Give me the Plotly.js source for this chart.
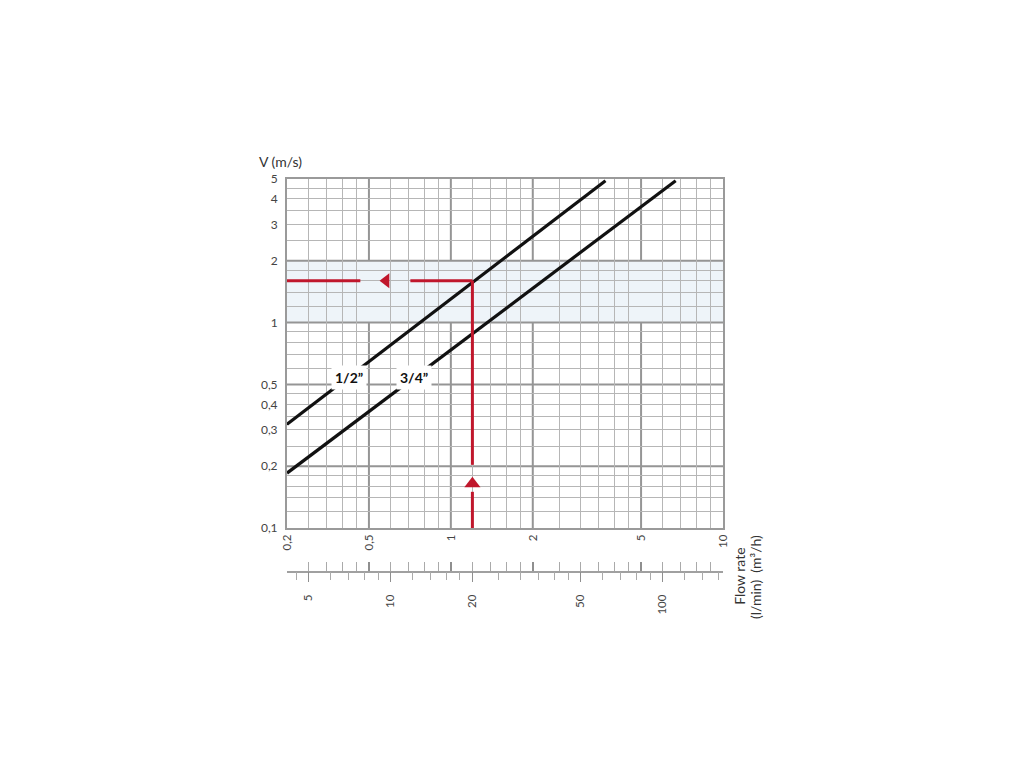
<!DOCTYPE html>
<html><head><meta charset="utf-8">
<script src="https://cdn.plot.ly/plotly-3.0.1.min.js"></script>
<style>html,body{margin:0;padding:0;background:#fff}#chart{width:1024px;height:768px}</style>
</head><body><div id="chart"></div>
<script>
// ---- Flow rate axis (m3/h) ----
const flowTicks = [0.25, 0.5, 1, 2, 5, 10];
const flowLabels = ['0,2', '0,5', '1', '2', '5', '10'];
const flowMinor = [0.3, 0.35, 0.4, 0.45, 0.6, 0.7, 0.8, 0.9, 1.2, 1.4, 1.6, 1.8, 2.5, 3, 3.5, 4, 4.5, 6, 7, 8, 9];
const flowStrong = [0.5, 1, 2, 5];
// ---- Flow rate axis (l/min) ----
const lminTicks = [5, 10, 20, 50, 100];
const lminLabels = ['5', '10', '20', '50', '100'];
const lminMinor = [4.5, 6, 7, 8, 9, 12, 14, 16, 18, 25, 30, 35, 40, 45, 60, 70, 80, 90, 120, 140, 160];
const lminPerM3h = 1 / 0.06;
// ---- Velocity axis (m/s) ----
const velTicks = [0.1, 0.2, 0.3, 0.4, 0.5, 1, 2, 3, 4, 5];
const velLabels = ['0,1', '0,2', '0,3', '0,4', '0,5', '1', '2', '3', '4', '5'];
const velMinor = [0.12, 0.14, 0.16, 0.18, 0.25, 0.3, 0.35, 0.4, 0.45, 0.6, 0.7, 0.8, 0.9, 1.2, 1.4, 1.6, 1.8, 2.5, 3, 3.5, 4, 4.5];
const velStrong = [0.2, 0.5, 1, 2];
const bandVel = [1, 2];
// ---- Pipe lines ----
const pipeNames = ['1/2\u201D', '3/4\u201D'];
const flowHalf = [0.25, 3.7];
const velHalf = [0.32, 4.9];
const flowThreeQ = [0.25, 6.7];
const velThreeQ = [0.185, 4.9];
// ---- Reading example (20 l/min) ----
const exFlow = 1.2;
const exVel = 1.6;
const exHorizA = [0.25, 0.465];
const exHorizB = [0.71, 1.2];
const exArrowFlow = 0.578;
const exVertA = [0.1, 0.15];
const exVertB = [0.203, 1.6];
const exArrowVel = 0.164;

const RED = '#c0172c';
const FONT = 'Lato, "Open Sans", sans-serif';
const xRange = [Math.log10(flowTicks[0]), Math.log10(flowTicks[flowTicks.length - 1])];

const traces = [
  {x: flowHalf, y: velHalf, mode: 'lines', line: {color: '#111', width: 3.2}, hoverinfo: 'skip', name: pipeNames[0]},
  {x: flowThreeQ, y: velThreeQ, mode: 'lines', line: {color: '#111', width: 3.2}, hoverinfo: 'skip', name: pipeNames[1]},
  {x: exHorizA, y: [exVel, exVel], mode: 'lines', line: {color: RED, width: 3}, hoverinfo: 'skip'},
  {x: exHorizB, y: [exVel, exVel], mode: 'lines', line: {color: RED, width: 3}, hoverinfo: 'skip'},
  {x: [exFlow, exFlow], y: exVertA, mode: 'lines', line: {color: RED, width: 3}, hoverinfo: 'skip'},
  {x: [exFlow, exFlow], y: exVertB, mode: 'lines', line: {color: RED, width: 3}, hoverinfo: 'skip'},
  {x: [exArrowFlow], y: [exVel], mode: 'markers', marker: {symbol: 'triangle-left', size: 13, color: RED}, hoverinfo: 'skip'},
  {x: [exFlow], y: [exArrowVel], mode: 'markers', marker: {symbol: 'triangle-up', size: 14, color: RED}, hoverinfo: 'skip'},
  {x: [1, 2], y: [1, 1], xaxis: 'x2', yaxis: 'y', mode: 'markers', marker: {opacity: 0}, hoverinfo: 'skip'},
  {x: [10, 20], y: [1, 1], xaxis: 'x3', yaxis: 'y', mode: 'markers', marker: {opacity: 0}, hoverinfo: 'skip'}
];

const shapes = [
  {type: 'rect', xref: 'x', yref: 'y', x0: flowTicks[0], x1: 10, y0: bandVel[0], y1: bandVel[1],
   fillcolor: '#eef4f9', line: {width: 0}, layer: 'below'}
];
flowStrong.forEach(v => shapes.push({type: 'line', xref: 'x', yref: 'paper', x0: v, x1: v,
  y0: 72 / 421, y1: 1, line: {color: '#959595', width: 2}, layer: 'below'}));
velStrong.forEach(v => shapes.push({type: 'line', xref: 'x', yref: 'y', x0: flowTicks[0], x1: 10,
  y0: v, y1: v, line: {color: '#959595', width: 2}, layer: 'below'}));

const annotations = [
  {text: 'V (m/s)', xref: 'paper', yref: 'paper', x: -0.068, y: 1.042, xanchor: 'left', yanchor: 'middle',
   showarrow: false, font: {family: FONT, size: 14, color: '#333'}},
  {text: pipeNames[0], xref: 'x', yref: 'y', x: Math.log10(0.423), y: Math.log10(0.543), showarrow: false,
   bgcolor: '#fff', borderpad: 3, font: {family: FONT, size: 14, color: '#111', weight: 'bold'}},
  {text: pipeNames[1], xref: 'x', yref: 'y', x: Math.log10(0.732), y: Math.log10(0.543), showarrow: false,
   bgcolor: '#fff', borderpad: 3, font: {family: FONT, size: 14, color: '#111', weight: 'bold'}},
  {text: 'Flow rate', xref: 'paper', yref: 'paper', x: 1.039, y: 0.055, xanchor: 'center', yanchor: 'middle',
   textangle: -90, showarrow: false, font: {family: FONT, size: 14, color: '#333'}},
  {text: '(l/min)\u00a0\u00a0(m\u00b3/h)', xref: 'paper', yref: 'paper', x: 1.076, y: 0.055, xanchor: 'center', yanchor: 'middle',
   textangle: -90, showarrow: false, font: {family: FONT, size: 14, color: '#333'}}
];

const layout = {
  width: 1024, height: 768,
  margin: {l: 287, r: 301, t: 179, b: 168},
  paper_bgcolor: '#fff', plot_bgcolor: '#fff',
  showlegend: false,
  font: {family: FONT, color: '#444'},
  xaxis: {
    type: 'log', range: xRange, domain: [0, 1], anchor: 'y',
    tickmode: 'array', tickvals: flowTicks, ticktext: flowLabels, tickangle: -90,
    ticks: '', showgrid: false, zeroline: false,
    tickfont: {family: FONT, size: 11.5, color: '#444'},
    showline: true, mirror: true, linecolor: '#9a9a9a', linewidth: 2,
    minor: {tickmode: 'array', tickvals: flowMinor, showgrid: true, gridcolor: '#b6b6b6', gridwidth: 1, ticks: ''}
  },
  xaxis2: {
    type: 'log', range: xRange, overlaying: 'x', anchor: 'free', position: 29 / 421, side: 'bottom',
    tickmode: 'array', tickvals: flowTicks, showticklabels: false,
    ticks: 'inside', ticklen: 9, tickwidth: 1.5, tickcolor: '#8f8f8f',
    showgrid: false, zeroline: false, showline: true, linecolor: '#a0a0a0', linewidth: 1.5,
    minor: {tickmode: 'array', tickvals: flowMinor, ticks: 'inside', ticklen: 9, tickwidth: 1, tickcolor: '#aaa', showgrid: false}
  },
  xaxis3: {
    type: 'log', range: [Math.log10(flowTicks[0] * lminPerM3h), Math.log10(10 * lminPerM3h)],
    overlaying: 'x', anchor: 'free', position: 29 / 421, side: 'bottom',
    tickmode: 'array', tickvals: lminTicks, ticktext: lminLabels, tickangle: -90,
    ticks: 'outside', ticklen: 10, tickwidth: 1.5, tickcolor: '#8f8f8f',
    ticklabelstandoff: 8,
    tickfont: {family: FONT, size: 11.5, color: '#444'},
    showgrid: false, zeroline: false, showline: false,
    minor: {tickmode: 'array', tickvals: lminMinor, ticks: 'outside', ticklen: 8, tickwidth: 1, tickcolor: '#aaa', showgrid: false}
  },
  yaxis: {
    type: 'log', range: [Math.log10(velTicks[0]), Math.log10(velTicks[velTicks.length - 1])],
    domain: [72 / 421, 1], anchor: 'x',
    tickmode: 'array', tickvals: velTicks, ticktext: velLabels,
    ticks: '', showgrid: false, zeroline: false, ticklabelstandoff: 5,
    tickfont: {family: FONT, size: 12, color: '#444'},
    showline: true, mirror: true, linecolor: '#9a9a9a', linewidth: 2,
    minor: {tickmode: 'array', tickvals: velMinor, showgrid: true, gridcolor: '#b6b6b6', gridwidth: 1, ticks: ''}
  },
  shapes: shapes,
  annotations: annotations
};

Plotly.newPlot('chart', traces, layout, {staticPlot: true, displayModeBar: false});
</script>
</body></html>
